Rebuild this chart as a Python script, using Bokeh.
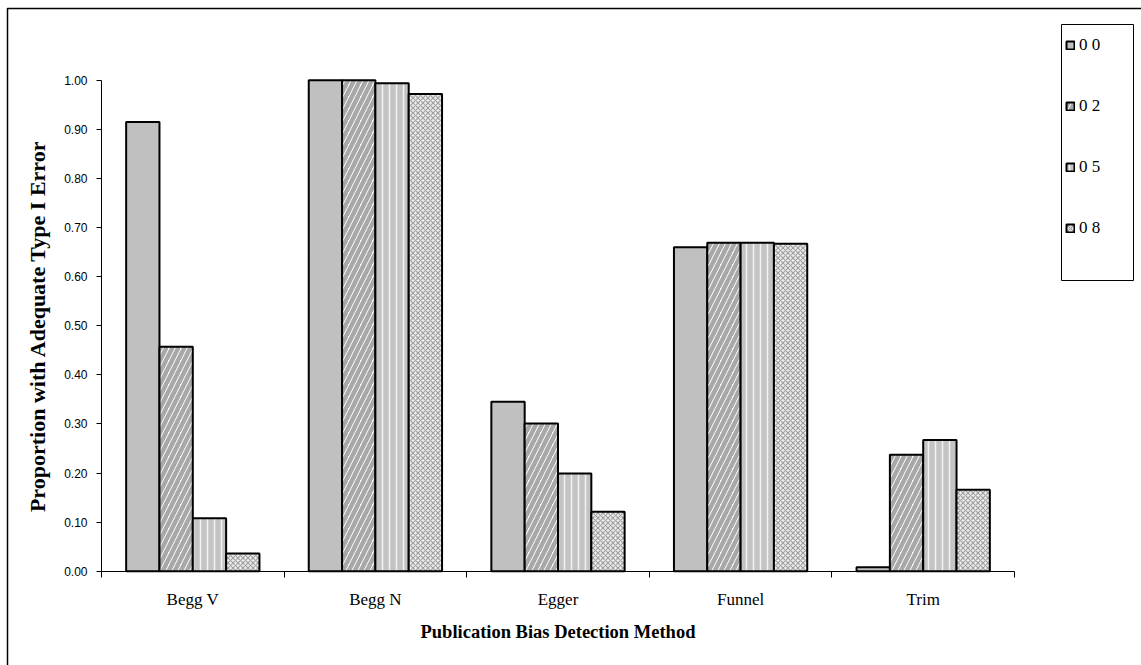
from bokeh.plotting import figure
from bokeh.models import Range1d, FixedTicker, NumeralTickFormatter, Legend, LegendItem, BoxAnnotation
from bokeh.embed import file_html
from bokeh.resources import INLINE

# ---- data ----
categories = ["Begg V", "Begg N", "Egger", "Funnel", "Trim"]
series_names = ["0 0", "0 2", "0 5", "0 8"]
s00 = [0.915, 1.000, 0.345, 0.660, 0.008]
s02 = [0.457, 1.000, 0.301, 0.669, 0.237]
s05 = [0.108, 0.994, 0.199, 0.669, 0.267]
s08 = [0.036, 0.972, 0.121, 0.667, 0.166]
y_ticks = [0.0, 0.1, 0.2, 0.3, 0.4, 0.5, 0.6, 0.7, 0.8, 0.9, 1.0]

series = [s00, s02, s05, s08]
styles = [
    dict(fill_color="#c0c0c0"),
    dict(fill_color="white", hatch_pattern="right_diagonal_line", hatch_color="#a8a8a8",
         hatch_weight=4.5, hatch_scale=12),
    dict(fill_color="#c4c4c4", hatch_pattern="vertical_line", hatch_color="#f2f2f2",
         hatch_weight=1.5, hatch_scale=7),
    dict(fill_color="#ececec", hatch_pattern="diagonal_cross", hatch_color="#a0a0a0",
         hatch_weight=1.1, hatch_scale=5),
]

# ---- layout (pixels) ----
W, H = 1141, 665
ax_x0, ax_y0 = 101, 570.7                          # pixel of data origin
px_per_cat, px_per_unit = 182.6, 491.0
n = len(categories)

x_start = -ax_x0 / px_per_cat
x_end = (W - ax_x0) / px_per_cat
y_start = -(H - ax_y0) / px_per_unit
y_end = ax_y0 / px_per_unit

def px_to_x(px):
    return (px - ax_x0) / px_per_cat

def px_to_y(py):
    return (ax_y0 - py) / px_per_unit

p = figure(width=W, height=H, output_backend="svg", toolbar_location=None,
           x_range=Range1d(x_start, x_end), y_range=Range1d(y_start, y_end),
           min_border_left=0, min_border_right=0, min_border_top=0, min_border_bottom=0)
p.outline_line_color = None
p.xgrid.visible = False
p.ygrid.visible = False
p.background_fill_color = "white"
p.border_fill_color = "white"

# outer chart border (right and bottom edges lie beyond the picture)
p.add_layout(BoxAnnotation(left=px_to_x(7), right=px_to_x(1160), top=px_to_y(8), bottom=px_to_y(690),
                           fill_alpha=0, line_color="black", line_alpha=1, line_width=1.5,
                           level="underlay"))

bar_w = 0.1825
renderers = []
for k, (vals, st) in enumerate(zip(series, styles)):
    xs = [i + 0.5 + (k - 1.5) * bar_w for i in range(n)]
    r = p.vbar(x=xs, top=vals, bottom=0, width=bar_w, line_color="black", line_width=2, **st)
    renderers.append(r)

# x axis: tick marks at category boundaries (minor ticks), labels at centers
xa = p.xaxis[0]
xa.fixed_location = 0
xa.bounds = (0, n)
xa.ticker = FixedTicker(ticks=[i + 0.5 for i in range(n)], minor_ticks=list(range(n + 1)))
xa.major_label_overrides = {i + 0.5: c for i, c in enumerate(categories)}
xa.major_tick_line_color = None
xa.major_tick_out = 0
xa.major_tick_in = 0
xa.minor_tick_out = 6
xa.minor_tick_in = 0
xa.minor_tick_line_color = "black"
xa.axis_line_color = "black"
xa.major_label_text_font = "Liberation Serif"
xa.major_label_text_font_size = "17px"
xa.major_label_text_color = "black"
xa.major_label_standoff = 13
xa.axis_label = "Publication Bias Detection Method"
xa.axis_label_text_font = "Liberation Serif"
xa.axis_label_text_font_style = "bold"
xa.axis_label_text_font_size = "18.5px"
xa.axis_label_text_color = "black"
xa.axis_label_standoff = 9

ya = p.yaxis[0]
ya.fixed_location = 0
ya.bounds = (0, 1)
ya.ticker = FixedTicker(ticks=y_ticks)
ya.formatter = NumeralTickFormatter(format="0.00")
ya.minor_tick_line_color = None
ya.major_tick_out = 5
ya.major_tick_in = 0
ya.major_tick_line_color = "black"
ya.axis_line_color = "black"
ya.major_label_text_font = "Liberation Sans"
ya.major_label_text_font_size = "12px"
ya.major_label_text_color = "black"
ya.major_label_standoff = 9
ya.axis_label = "Proportion with Adequate Type I Error"
ya.axis_label_text_font = "Liberation Serif"
ya.axis_label_text_font_style = "bold"
ya.axis_label_text_font_size = "22px"
ya.axis_label_text_color = "black"
ya.axis_label_standoff = 11

# legend frame
leg_l, leg_t, leg_r, leg_b = 1061, 24, 1133, 280
p.add_layout(BoxAnnotation(left=px_to_x(leg_l), right=px_to_x(leg_r),
                           top=px_to_y(leg_t), bottom=px_to_y(leg_b),
                           fill_color="white", fill_alpha=1,
                           line_color="black", line_alpha=1, line_width=1, level="annotation"))

item_h, pitch, first_c = 19, 60, 48
leg_height = 4 * item_h + 3 * (pitch - item_h)
leg_bottom_px = first_c - item_h / 2 + leg_height
legend = Legend(items=[LegendItem(label=s, renderers=[r]) for s, r in zip(series_names, renderers)],
                location=(1065, H - leg_bottom_px), orientation="vertical",
                glyph_width=10, glyph_height=10, label_standoff=4,
                label_height=item_h, spacing=pitch - item_h, padding=0, margin=0,
                label_text_font="Liberation Serif", label_text_font_size="17px",
                label_text_color="black",
                border_line_color=None, background_fill_alpha=0)
p.add_layout(legend, "center")

open("out.html", "w").write(file_html(p, INLINE))
